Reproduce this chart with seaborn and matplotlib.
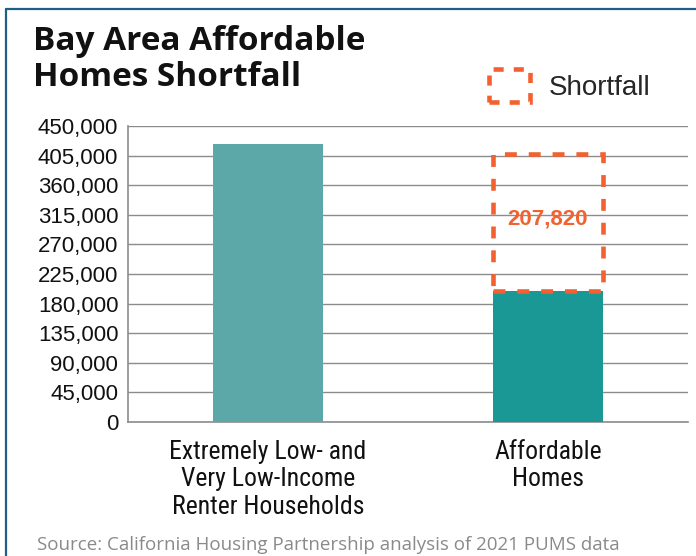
import seaborn as sns
import matplotlib.pyplot as plt
import matplotlib.font_manager as fm
from matplotlib.lines import Line2D
from matplotlib.patches import Patch
from matplotlib.ticker import FuncFormatter, FixedLocator

# data
categories = ["Extremely Low- and\nVery Low-Income\nRenter Households", "Affordable\nHomes"]
values = [422000, 199000]
shortfall = 207820
bar_colors = ["#5ca8a9", "#1a9896"]
orange = "#f2612f"

sns.set_theme(style="white")
plt.rcParams['font.family'] = ['Liberation Sans', 'DejaVu Sans']

available = {f.name for f in fm.fontManager.ttflist}
narrow = next((f for f in ["Liberation Sans Narrow", "Roboto Condensed", "DejaVu Sans Condensed", "Roboto"]
               if f in available), "Liberation Sans")

fig = plt.figure(figsize=(6.96, 5.56), dpi=100)
ax = fig.add_axes([0.1839, 0.241, 0.8046, 0.5324])

sns.barplot(x=categories, y=values, hue=categories, palette=bar_colors, width=0.393,
            saturation=1, legend=False, linewidth=0, ax=ax, zorder=3)

# shortfall box stacked on top of affordable homes
ax.bar(1, shortfall, bottom=values[1], width=0.393, fill=False, edgecolor=orange,
       linewidth=3.3, linestyle=(0, (2.6, 2.6)), zorder=4)
ax.text(1, values[1] + shortfall / 2 + 6000, f"{shortfall:,}", ha="center", va="center",
        color=orange, fontsize=16, fontweight="bold", zorder=5)

ax.set_xlim(-0.5, 1.5)
ax.set_ylim(0, 450000)
ax.yaxis.set_major_locator(FixedLocator(range(0, 450001, 45000)))
ax.yaxis.set_major_formatter(FuncFormatter(lambda v, p: f"{int(v):,}"))
ax.grid(axis="y", color="#8c8c8c", linewidth=1.0, zorder=0)
ax.set_axisbelow(True)

for s in ["top", "right"]:
    ax.spines[s].set_visible(False)
for s in ["left", "bottom"]:
    ax.spines[s].set_color("#8c8c8c")
    ax.spines[s].set_linewidth(1.2)

ax.tick_params(axis="y", length=0, pad=7, labelsize=16, labelcolor="#111111")
ax.tick_params(axis="x", which="major", length=0, pad=13, labelsize=18.5, labelcolor="#111111")
ax.set_xticks([0.5, 1.5], minor=True)
ax.tick_params(axis="x", which="minor", direction="in", length=5, width=1.2, color="#8c8c8c")
for lbl in ax.get_xticklabels():
    lbl.set_family(narrow)
    lbl.set_linespacing(1.18)
ax.set_xlabel("")
ax.set_ylabel("")

# legend with dashed square
handle = Patch(facecolor="none", edgecolor=orange, linewidth=3.3, linestyle=(0, (2.2, 2.2)))
fig.legend(handles=[handle], labels=["Shortfall"], loc="upper left", bbox_to_anchor=(0.703, 0.875),
           frameon=False, fontsize=20, handlelength=1.45, handleheight=1.45, handletextpad=0.7,
           borderpad=0, borderaxespad=0)

fig.text(0.047, 0.955, "Bay Area Affordable\nHomes Shortfall", ha="left", va="top",
         fontsize=24, fontweight="bold", family=["Open Sans", "DejaVu Sans"], linespacing=1.13,
         color="#111111")
fig.text(0.053, 0.003, "Source: California Housing Partnership analysis of 2021 PUMS data",
         ha="left", va="bottom", fontsize=13.5, color="#8a8a8a", family=["Open Sans", "DejaVu Sans"])

# outer frame
frame_color = "#1d5f88"
fig.add_artist(Line2D([0.0086, 0.0086], [0, 0.984], transform=fig.transFigure, color=frame_color, lw=1.6))
fig.add_artist(Line2D([0.0086, 1], [0.984, 0.984], transform=fig.transFigure, color=frame_color, lw=1.6))

fig.savefig("out.png", dpi=100)
